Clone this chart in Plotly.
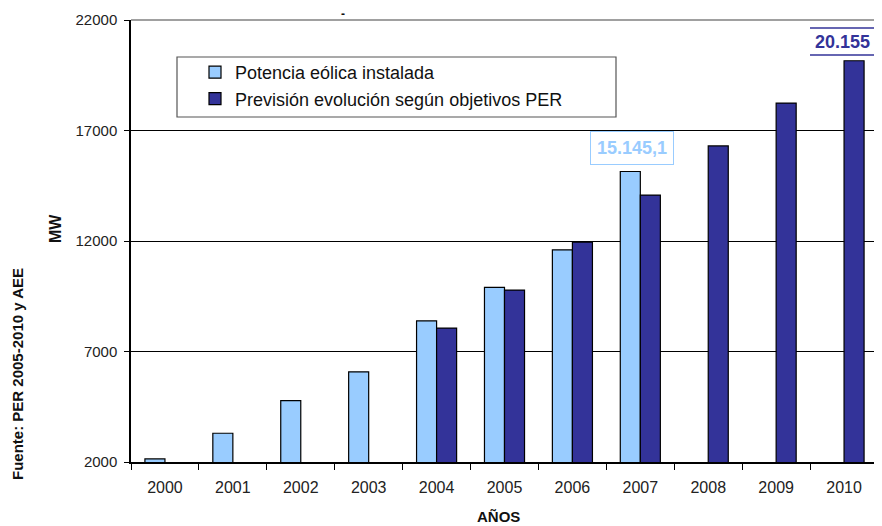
import plotly.graph_objects as go

years = ["2000", "2001", "2002", "2003", "2004", "2005", "2006", "2007", "2008", "2009", "2010"]
installed = [2140, 3300, 4780, 6080, 8390, 9900, 11600, 15145.1, None, None, None]
forecast = [None, None, None, None, 8060, 9780, 11950, 14080, 16300, 18240, 20155]
y_ticks = [2000, 7000, 12000, 17000, 22000]

FONT = "Liberation Sans, Arial, sans-serif"
# the page body has an 8px default margin; compensate so the figure fills the window
OFF = 8
W, H = 882 - OFF, 526 - OFF
L, R, T, B = 131 - OFF, 4, 20 - OFF, 64
PW, PH = W - L - R, H - T - B


def px(x):
    # reference pixel x -> paper x
    return (x - 131) / PW


def py(y):
    # reference pixel y -> paper y
    return (462 - y) / PH


fig = go.Figure()
fig.add_trace(go.Bar(
    x=years, y=installed, name="Potencia eólica instalada",
    marker=dict(color="#99CCFF", line=dict(color="#000000", width=1.2)),
))
fig.add_trace(go.Bar(
    x=years, y=forecast, name="Previsión evolución según objetivos PER",
    marker=dict(color="#333399", line=dict(color="#000000", width=1.2)),
))

shapes = [
    dict(type="line", xref="paper", yref="paper", x0=0, x1=1, y0=1, y1=1,
         line=dict(color="#a0a0a0", width=2), layer="above"),
    dict(type="line", xref="paper", yref="paper", x0=1, x1=1, y0=0, y1=1,
         line=dict(color="#a0a0a0", width=2), layer="above"),
    dict(type="rect", xref="paper", yref="paper", x0=px(177), x1=px(616),
         y0=py(117), y1=py(57), line=dict(color="#555555", width=1.2),
         fillcolor="white", layer="above"),
    dict(type="line", xref="paper", yref="paper", x0=px(810), x1=px(884),
         y0=py(28), y1=py(28), line=dict(color="#333399", width=1.5)),
    dict(type="line", xref="paper", yref="paper", x0=px(810), x1=px(884),
         y0=py(55), y1=py(55), line=dict(color="#333399", width=1.5)),
]

common = dict(xref="paper", yref="paper", showarrow=False, xanchor="center", yanchor="middle")
annotations = [
    dict(text="<b>15.145,1</b>", x=px(632), y=py(148),
         font=dict(family=FONT, size=18, color="#99CCFF"),
         bordercolor="#99CCFF", borderwidth=1, borderpad=6, bgcolor="white", **common),
    dict(text="<b>20.155</b>", x=px(842), y=py(42),
         font=dict(family=FONT, size=18, color="#333399"), **common),
    dict(text="<b>MW</b>", x=px(55), y=py(229), textangle=-90,
         font=dict(family=FONT, size=16, color="#111111"), **common),
    dict(text="<b>Fuente: PER 2005-2010 y AEE</b>", x=px(17), y=py(374), textangle=-90,
         font=dict(family=FONT, size=15, color="#111111"), **common),
    dict(text="<b>AÑOS</b>", x=px(498), y=py(516),
         font=dict(family=FONT, size=15, color="#111111"), **common),
    dict(text="<b>-</b>", x=px(343), y=py(14),
         font=dict(family=FONT, size=12, color="#111111"), **common),
]

fig.update_layout(
    width=W, height=H,
    margin=dict(l=L, r=R, t=T, b=B, pad=0),
    paper_bgcolor="white", plot_bgcolor="white",
    barmode="group", bargap=0.41, bargroupgap=0,
    font=dict(family=FONT, color="#222222"),
    showlegend=True,
    legend=dict(x=px(195), y=py(54), xanchor="left", yanchor="top",
                bgcolor="rgba(0,0,0,0)", borderwidth=0,
                font=dict(family=FONT, size=18, color="#111111")),
    shapes=shapes,
    annotations=annotations,
    xaxis=dict(
        type="category", showgrid=False, showline=True, linecolor="#000000", linewidth=1.5,
        ticks="outside", tickson="boundaries", ticklen=6, tickcolor="#000000",
        tickfont=dict(family=FONT, size=16, color="#222222"),
        ticklabelstandoff=10,
    ),
    yaxis=dict(
        range=[2000, 22000], tickvals=y_ticks, tickformat="d",
        showgrid=True, gridcolor="#000000", gridwidth=1,
        showline=True, linecolor="#000000", linewidth=1.5,
        ticks="outside", ticklen=5, tickcolor="#000000",
        tickfont=dict(family=FONT, size=15, color="#222222"),
        ticklabelstandoff=4,
        zeroline=False,
    ),
)

fig.write_html("out.html")
